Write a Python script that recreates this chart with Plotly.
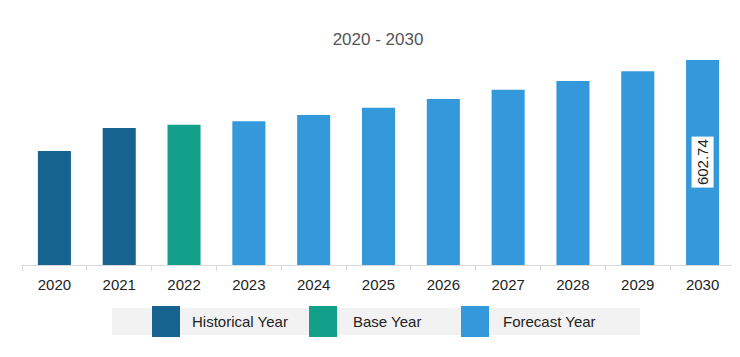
import plotly.graph_objects as go

years = ["2020", "2021", "2022", "2023", "2024", "2025", "2026", "2027", "2028", "2029", "2030"]
values = [335, 403, 412, 423, 441, 462, 488, 515, 541, 570, 602.74]
kinds = ["Historical Year", "Historical Year", "Base Year"] + ["Forecast Year"] * 8
legend_names = ["Historical Year", "Base Year", "Forecast Year"]
colors = {"Historical Year": "#17638f", "Base Year": "#13a08a", "Forecast Year": "#3499db"}

FONT = "Liberation Sans"

fig = go.Figure()
fig.add_trace(go.Bar(
    x=years, y=values,
    marker=dict(color=[colors[k] for k in kinds], line=dict(width=0)),
    width=0.51, showlegend=False, hoverinfo="x+y",
))

# value label on last bar (category index of last year)
fig.add_annotation(x=len(years) - 1, y=values[-1] * 0.5, text=f"{values[-1]:.2f}", textangle=-90,
                   showarrow=False, bgcolor="white", font=dict(size=15, color="#222", family=FONT),
                   borderpad=2)

# custom legend (pixel positions relative to plot area: left 22, baseline 265 in screen)
PW, PH = 713, 215
fig.add_shape(type="rect", xref="paper", yref="paper", x0=(112 - 22) / PW, x1=(640 - 22) / PW,
              y0=(265 - 335) / PH, y1=(265 - 308) / PH, fillcolor="#f2f2f2", line=dict(width=0), layer="below")
marker_px = [152, 309, 461]
text_px = [190, 351, 501]
for name, mx, tx in zip(legend_names, marker_px, text_px):
    fig.add_shape(type="rect", xref="paper", yref="paper", x0=(mx - 22) / PW, x1=(mx + 28 - 22) / PW,
                  y0=(265 - 337) / PH, y1=(265 - 306) / PH, fillcolor=colors[name], line=dict(width=0))
    fig.add_annotation(xref="paper", yref="paper", x=(tx - 22) / PW, y=(265 - 321.5) / PH, text=name,
                       showarrow=False, xanchor="left", yanchor="middle",
                       font=dict(size=15, color="#222", family=FONT))

fig.update_layout(
    width=740, height=357,
    margin=dict(l=14, r=13, t=42, b=100),
    plot_bgcolor="white", paper_bgcolor="white",
    title=dict(text="2020 - 2030", x=370 / 740, xanchor="center", y=1 - 31 / 357, yanchor="middle",
               yref="container", font=dict(size=17, color="#555", family=FONT)),
    xaxis=dict(type="category", range=[-0.5, len(years) - 0.5], autorange=False,
               showline=True, linecolor="#d9d9d9", linewidth=1, ticks="outside",
               tickson="boundaries", ticklen=5, tickcolor="#d9d9d9", showgrid=False, tickangle=0,
               ticklabelstandoff=6,
               tickfont=dict(size=15, color="#222", family=FONT)),
    yaxis=dict(range=[0, 602.74 * 215 / 205], visible=False, showgrid=False, zeroline=False),
    showlegend=False,
)

fig.write_html("out.html")
